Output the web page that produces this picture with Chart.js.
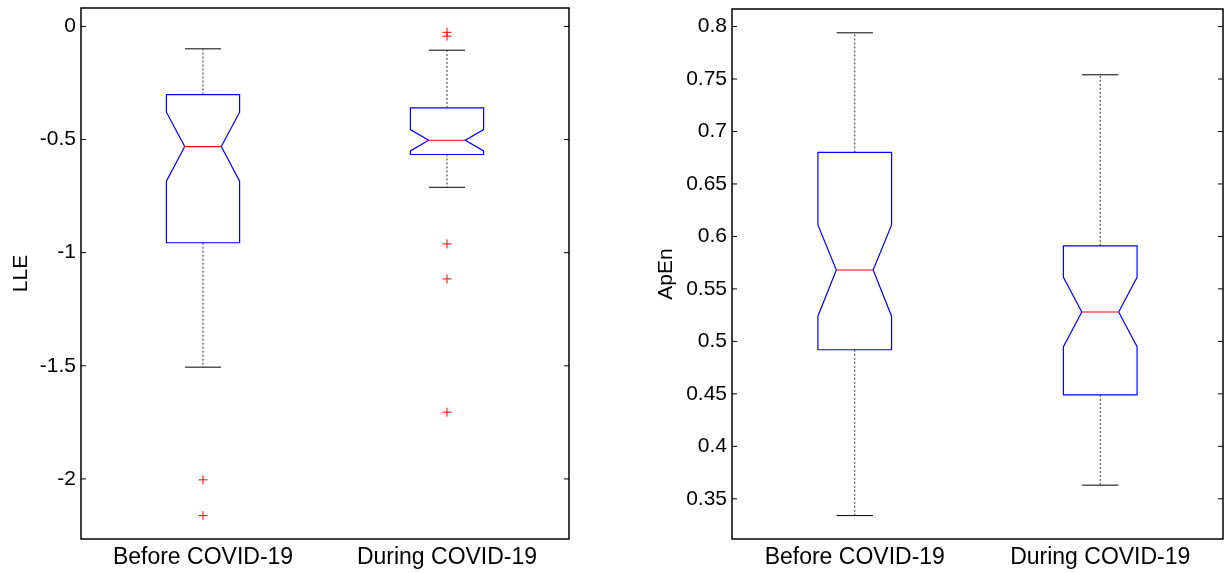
<!DOCTYPE html>
<html>
<head>
<meta charset="utf-8">
<script src="https://cdn.jsdelivr.net/npm/chart.js@4.4.1/dist/chart.umd.min.js"></script>
<style>
  body { margin: 0; background: #fff; }
  #wrap { position: relative; width: 1226px; height: 573px; }
  canvas { position: absolute; top: 0; }
  #lleChart { left: 0; }
  #apenChart { left: 613px; }
</style>
</head>
<body>
<div id="wrap">
  <canvas id="lleChart" width="613" height="573"></canvas>
  <canvas id="apenChart" width="613" height="573"></canvas>
</div>
<script>
var categories = ["Before COVID-19", "During COVID-19"];

// LLE panel
var lleTicks = [-2, -1.5, -1, -0.5, 0];
var lleWhiskerLo = [-1.506, -0.711];
var lleQ1 = [-0.956, -0.566];
var lleNotchLo = [-0.684, -0.550];
var lleMedian = [-0.531, -0.503];
var lleNotchHi = [-0.379, -0.456];
var lleQ3 = [-0.301, -0.360];
var lleWhiskerHi = [-0.099, -0.105];
var lleOutliers = [[-2.004, -2.162], [-0.026, -0.043, -0.961, -1.116, -1.705]];

// ApEn panel
var apenTicks = [0.35, 0.4, 0.45, 0.5, 0.55, 0.6, 0.65, 0.7, 0.75, 0.8];
var apenWhiskerLo = [0.334, 0.363];
var apenQ1 = [0.492, 0.449];
var apenNotchLo = [0.524, 0.495];
var apenMedian = [0.568, 0.528];
var apenNotchHi = [0.611, 0.561];
var apenQ3 = [0.680, 0.591];
var apenWhiskerHi = [0.794, 0.754];
var apenOutliers = [[], []];

var fontFamily = "'Liberation Sans', Arial, sans-serif";

// draws the notched boxes, whiskers and axis frame with inward ticks
var boxPlugin = {
    id: "notchBox",
    afterDatasetsDraw: function (chart) {
        var st = chart.options.plugins.notchBox;
        var xs = chart.scales.x, ys = chart.scales.y;
        var ctx = chart.ctx;
        ctx.save();
        for (var i = 0; i < categories.length; i++) {
            var xc = xs.getPixelForValue(i + 1);
            var w = xs.getPixelForValue(i + 1 + 0.15) - xc;
            var nw = xs.getPixelForValue(i + 1 + 0.075) - xc;
            var cw = xs.getPixelForValue(i + 1 + 0.074) - xc;
            var q1 = ys.getPixelForValue(st.q1[i]);
            var q3 = ys.getPixelForValue(st.q3[i]);
            var med = ys.getPixelForValue(st.median[i]);
            var nlo = ys.getPixelForValue(st.notchLo[i]);
            var nhi = ys.getPixelForValue(st.notchHi[i]);
            var wlo = ys.getPixelForValue(st.whiskerLo[i]);
            var whi = ys.getPixelForValue(st.whiskerHi[i]);

            // whiskers (dashed)
            ctx.strokeStyle = "#333";
            ctx.lineWidth = 1;
            ctx.setLineDash([2, 2]);
            ctx.beginPath();
            ctx.moveTo(xc, q3); ctx.lineTo(xc, whi);
            ctx.moveTo(xc, q1); ctx.lineTo(xc, wlo);
            ctx.stroke();
            ctx.setLineDash([]);

            // caps
            ctx.strokeStyle = "#000";
            ctx.beginPath();
            ctx.moveTo(xc - cw, whi); ctx.lineTo(xc + cw, whi);
            ctx.moveTo(xc - cw, wlo); ctx.lineTo(xc + cw, wlo);
            ctx.stroke();

            // notched box
            ctx.strokeStyle = "#0000ff";
            ctx.lineWidth = 1.2;
            ctx.beginPath();
            ctx.moveTo(xc - w, q3);
            ctx.lineTo(xc + w, q3);
            ctx.lineTo(xc + w, nhi);
            ctx.lineTo(xc + nw, med);
            ctx.lineTo(xc + w, nlo);
            ctx.lineTo(xc + w, q1);
            ctx.lineTo(xc - w, q1);
            ctx.lineTo(xc - w, nlo);
            ctx.lineTo(xc - nw, med);
            ctx.lineTo(xc - w, nhi);
            ctx.closePath();
            ctx.stroke();

            // median
            ctx.strokeStyle = "#ff0000";
            ctx.beginPath();
            ctx.moveTo(xc - nw, med); ctx.lineTo(xc + nw, med);
            ctx.stroke();
        }

        // frame
        var a = chart.chartArea;
        ctx.strokeStyle = "#000";
        ctx.lineWidth = 1.5;
        ctx.strokeRect(a.left, a.top, a.right - a.left, a.bottom - a.top);
        ctx.lineWidth = 1;
        ctx.beginPath();
        ys.ticks.forEach(function (t) {
            var y = ys.getPixelForValue(t.value);
            ctx.moveTo(a.left, y); ctx.lineTo(a.left + 5, y);
            ctx.moveTo(a.right, y); ctx.lineTo(a.right - 5, y);
        });
        ctx.stroke();
        ctx.restore();
    }
};

function makeChart(id, title, ticks, yMin, yMax, stats, outliers, yWidth, titlePad, padRight, padTop) {
    var pts = [];
    for (var i = 0; i < outliers.length; i++) {
        for (var j = 0; j < outliers[i].length; j++) {
            pts.push({ x: i + 1, y: outliers[i][j] });
        }
    }
    return new Chart(document.getElementById(id).getContext("2d"), {
        type: "scatter",
        data: {
            datasets: [{
                data: pts,
                pointStyle: "cross",
                radius: 4.5,
                borderColor: "#ff0000",
                borderWidth: 1
            }]
        },
        plugins: [boxPlugin],
        options: {
            responsive: false,
            animation: false,
            layout: { padding: { top: padTop, right: padRight, left: 0, bottom: 0 } },
            plugins: {
                legend: { display: false },
                tooltip: { enabled: false },
                notchBox: stats
            },
            scales: {
                x: {
                    type: "linear",
                    min: 0.5,
                    max: 2.5,
                    grid: { display: false, drawTicks: false },
                    border: { display: false },
                    afterBuildTicks: function (s) {
                        s.ticks = categories.map(function (c, k) { return { value: k + 1 }; });
                    },
                    afterFit: function (s) {
                        s.height = 573 - 539;
                        s.paddingLeft = 0; s.paddingRight = 0;
                    },
                    ticks: {
                        padding: 5,
                        color: "#000",
                        maxRotation: 0,
                        font: { family: fontFamily, size: 23 },
                        callback: function (v) { return categories[v - 1]; }
                    }
                },
                y: {
                    min: yMin,
                    max: yMax,
                    grid: { display: false, drawTicks: false },
                    border: { display: false },
                    afterBuildTicks: function (s) {
                        s.ticks = ticks.map(function (v) { return { value: v }; });
                    },
                    afterFit: function (s) {
                        s.width = yWidth;
                        s.paddingTop = 0; s.paddingBottom = 0;
                    },
                    ticks: {
                        padding: 5,
                        color: "#000",
                        font: { family: fontFamily, size: 21 },
                        callback: function (v) { return String(v); }
                    },
                    title: {
                        display: true,
                        text: title,
                        color: "#000",
                        font: { family: fontFamily, size: 21 },
                        padding: { top: titlePad, bottom: 0 }
                    }
                }
            }
        }
    });
}

makeChart("lleChart", "LLE", lleTicks, -2.2655, 0.0815, {
    q1: lleQ1, q3: lleQ3, median: lleMedian, notchLo: lleNotchLo, notchHi: lleNotchHi,
    whiskerLo: lleWhiskerLo, whiskerHi: lleWhiskerHi
}, lleOutliers, 81, 9, 44, 8);

makeChart("apenChart", "ApEn", apenTicks, 0.3117, 0.8167, {
    q1: apenQ1, q3: apenQ3, median: apenMedian, notchLo: apenNotchLo, notchHi: apenNotchHi,
    whiskerLo: apenWhiskerLo, whiskerHi: apenWhiskerHi
}, apenOutliers, 119, 41, 3, 9);
</script>
</body>
</html>
